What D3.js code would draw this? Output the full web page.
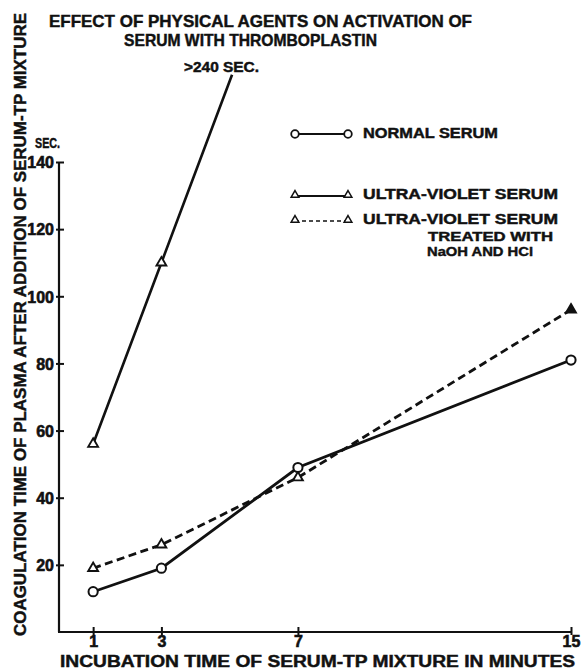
<!DOCTYPE html>
<html>
<head>
<meta charset="utf-8">
<script src="https://cdn.jsdelivr.net/npm/d3@7/dist/d3.min.js"></script>
<style>
  html, body { margin: 0; padding: 0; background: #fff; }
  svg { display: block; }
  text { font-family: "Liberation Sans", Arial, sans-serif; font-weight: bold; fill: #111; stroke: #111; stroke-width: 0.45px; }
</style>
</head>
<body>
<svg id="chart" width="582" height="670"></svg>
<script>
// ---- data ----
const minutes = [1, 3, 7, 15];
const normalSerum = [12, 19, 49, 81];
const uvMinutes = [1, 3];
const uvSerum = [56, 110];
const uvTreated = [19, 26, 46, 96];
// direction of the off-scale UV line (towards ">240 SEC.")
const uvOffscale = { minute: 5.07, value: 166 };
const xTicks = [1, 3, 7, 15];
const yTicks = [20, 40, 60, 80, 100, 120, 140];

const titleLines = ["EFFECT OF PHYSICAL AGENTS ON ACTIVATION OF", "SERUM WITH THROMBOPLASTIN"];
const xLabel = "INCUBATION  TIME  OF  SERUM-TP  MIXTURE  IN  MINUTES";
const yLabel = "COAGULATION  TIME  OF  PLASMA  AFTER  ADDITION  OF  SERUM-TP  MIXTURE";
const legendItems = ["NORMAL SERUM", "ULTRA-VIOLET SERUM", "ULTRA-VIOLET SERUM"];

// ---- layout ----
const svg = d3.select("#chart");
const x = d3.scaleLinear().domain([0, 15]).range([59, 571]);
const y = d3.scaleLinear().domain([0, 140]).range([632, 162]);
const ink = "#111";

// axes lines
svg.append("line").attr("x1", x(0)).attr("x2", x(0)).attr("y1", y(140)).attr("y2", y(0))
  .attr("stroke", ink).attr("stroke-width", 2.2);
svg.append("line").attr("x1", x(0) - 1).attr("x2", x(15)).attr("y1", y(0)).attr("y2", y(0))
  .attr("stroke", ink).attr("stroke-width", 2.2);

// y ticks
const yAxis = d3.axisLeft(y).tickValues(yTicks).tickSize(-5).tickPadding(6).tickFormat(d3.format("d"));
const yg = svg.append("g").attr("transform", `translate(${x(0)},0)`).call(yAxis);
yg.select(".domain").remove();
yg.selectAll(".tick line").attr("stroke", ink).attr("stroke-width", 2).attr("x1", -3);
yg.selectAll(".tick text").style("font-size", "16px").style("font-weight", "bold")
  .style("fill", ink).style("stroke-width", "0.6px").attr("dy", "0.36em").attr("x", -5);

// x ticks
const xAxis = d3.axisBottom(x).tickValues(xTicks).tickSize(-5).tickPadding(9).tickFormat(d3.format("d"));
const xg = svg.append("g").attr("transform", `translate(0,${y(0)})`).call(xAxis);
xg.select(".domain").remove();
xg.selectAll(".tick line").attr("stroke", ink).attr("stroke-width", 2).attr("y2", -5).attr("y1", 3);
xg.selectAll(".tick text").style("font-size", "16px").style("font-weight", "bold")
  .style("fill", ink).style("stroke-width", "0.6px").attr("y", 4).attr("dy", "0.71em");

// "SEC." unit
svg.append("text").attr("x", 35).attr("y", 148).style("font-size", "15px")
  .attr("textLength", 25).attr("lengthAdjust", "spacingAndGlyphs").text("SEC.");

// title
svg.append("text").attr("x", 49).attr("y", 27).style("font-size", "16.5px")
  .attr("textLength", 423).attr("lengthAdjust", "spacingAndGlyphs").text(titleLines[0]);
svg.append("text").attr("x", 124).attr("y", 46).style("font-size", "16.5px")
  .attr("textLength", 253).attr("lengthAdjust", "spacingAndGlyphs").text(titleLines[1]);

// axis labels
svg.append("text").attr("x", 60).attr("y", 667).style("font-size", "16px")
  .attr("textLength", 515).attr("lengthAdjust", "spacingAndGlyphs").text(xLabel);
svg.append("text").attr("transform", "translate(26,636) rotate(-90)").style("font-size", "17px")
  .attr("textLength", 623).attr("lengthAdjust", "spacingAndGlyphs").text(yLabel);

// ---- series ----
const line = d3.line().x(d => x(d[0])).y(d => y(d[1]));
const normalPts = minutes.map((m, i) => [m, normalSerum[i]]);
const uvPts = uvMinutes.map((m, i) => [m, uvSerum[i]]);
const treatedPts = minutes.map((m, i) => [m, uvTreated[i]]);

// UV solid line (extends off scale)
svg.append("path").attr("d", line(uvPts.concat([[uvOffscale.minute, uvOffscale.value]])))
  .attr("fill", "none").attr("stroke", ink).attr("stroke-width", 2.6);
svg.append("text").attr("x", 184).attr("y", 72).style("font-size", "14px")
  .attr("textLength", 75).attr("lengthAdjust", "spacingAndGlyphs").text(">240 SEC.");

// treated dashed
svg.append("path").attr("d", line(treatedPts)).attr("fill", "none").attr("stroke", ink)
  .attr("stroke-width", 2.8).attr("stroke-dasharray", "8,4.5");
// normal solid
svg.append("path").attr("d", line(normalPts)).attr("fill", "none").attr("stroke", ink)
  .attr("stroke-width", 2.8);

const tri = d3.symbol().type(d3.symbolTriangle).size(42);
function triangles(pts, filledLast) {
  svg.append("g").selectAll("path").data(pts).join("path")
    .attr("d", tri)
    .attr("transform", d => `translate(${x(d[0])},${y(d[1])})`)
    .attr("fill", (d, i) => (filledLast && i === pts.length - 1) ? ink : "#fff")
    .attr("stroke", ink).attr("stroke-width", 1.9);
}
triangles(uvPts, false);
triangles(treatedPts, true);
svg.append("g").selectAll("circle").data(normalPts).join("circle")
  .attr("cx", d => x(d[0])).attr("cy", d => y(d[1])).attr("r", 4.6)
  .attr("fill", "#fff").attr("stroke", ink).attr("stroke-width", 2);

// ---- legend ----
const lg = svg.append("g");
const lx1 = 295, lx2 = 348, ltx = 363;
// normal
lg.append("line").attr("x1", lx1).attr("x2", lx2).attr("y1", 134).attr("y2", 134)
  .attr("stroke", ink).attr("stroke-width", 1.8);
[lx1, lx2].forEach(cx => lg.append("circle").attr("cx", cx).attr("cy", 134).attr("r", 3.8)
  .attr("fill", "#fff").attr("stroke", ink).attr("stroke-width", 1.8));
lg.append("text").attr("x", ltx).attr("y", 138).style("font-size", "14px")
  .attr("textLength", 135).attr("lengthAdjust", "spacingAndGlyphs").text(legendItems[0]);
// uv
lg.append("line").attr("x1", lx1).attr("x2", lx2).attr("y1", 196).attr("y2", 196)
  .attr("stroke", ink).attr("stroke-width", 1.8);
const ltri = d3.symbol().type(d3.symbolTriangle).size(26);
[lx1, lx2].forEach(cx => lg.append("path").attr("d", ltri).attr("transform", `translate(${cx},195)`)
  .attr("fill", "#fff").attr("stroke", ink).attr("stroke-width", 1.5));
lg.append("text").attr("x", ltx).attr("y", 199).style("font-size", "14px")
  .attr("textLength", 195).attr("lengthAdjust", "spacingAndGlyphs").text(legendItems[1]);
// uv treated
lg.append("line").attr("x1", lx1).attr("x2", lx2).attr("y1", 221).attr("y2", 221)
  .attr("stroke", ink).attr("stroke-width", 1.6).attr("stroke-dasharray", "4,3");
[lx1, lx2].forEach(cx => lg.append("path").attr("d", ltri).attr("transform", `translate(${cx},220)`)
  .attr("fill", "#fff").attr("stroke", ink).attr("stroke-width", 1.5));
lg.append("text").attr("x", ltx).attr("y", 224).style("font-size", "14px")
  .attr("textLength", 195).attr("lengthAdjust", "spacingAndGlyphs").text(legendItems[2]);
lg.append("text").attr("x", 428).attr("y", 241).style("font-size", "13px")
  .attr("textLength", 125).attr("lengthAdjust", "spacingAndGlyphs").text("TREATED WITH");
lg.append("text").attr("x", 427).attr("y", 256).style("font-size", "13px")
  .attr("textLength", 106).attr("lengthAdjust", "spacingAndGlyphs").text("NaOH AND HCl");
</script>
</body>
</html>
